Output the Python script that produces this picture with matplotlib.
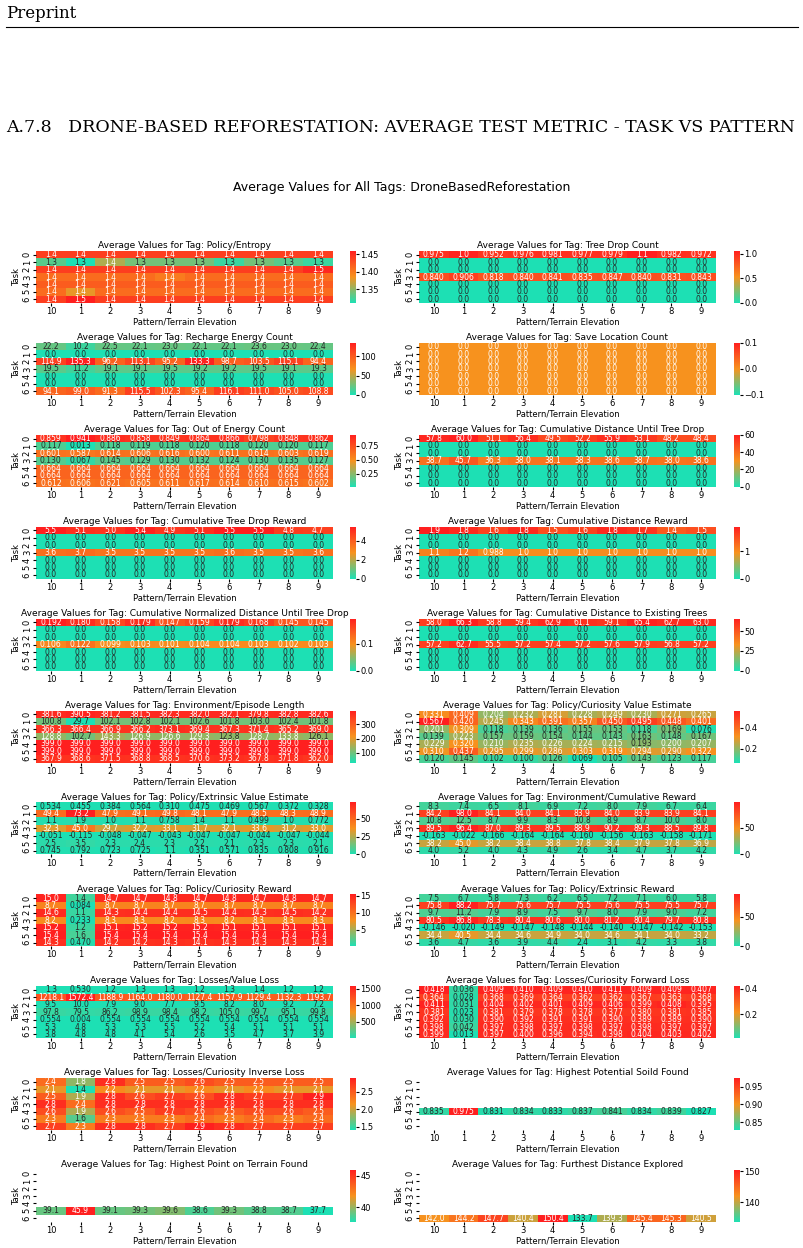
import numpy as np
import matplotlib
matplotlib.use("Agg")
import matplotlib.pyplot as plt
import seaborn as sns
from matplotlib.colors import LinearSegmentedColormap

W, H = 804, 1248
N = np.nan
Z = [0.0] * 10
ROWS = 7
X_LABELS = ["10", "1", "2", "3", "4", "5", "6", "7", "8", "9"]

policy_entropy = [
    [1.44, 1.44, 1.44, 1.44, 1.44, 1.44, 1.44, 1.44, 1.44, 1.44],
    [1.33, 1.31, 1.36, 1.34, 1.34, 1.34, 1.32, 1.34, 1.33, 1.32],
    [1.44, 1.44, 1.44, 1.44, 1.44, 1.44, 1.44, 1.44, 1.44, 1.454],
    [1.41, 1.41, 1.41, 1.41, 1.40, 1.41, 1.41, 1.41, 1.41, 1.41],
    [1.42, 1.42, 1.42, 1.42, 1.42, 1.42, 1.42, 1.42, 1.42, 1.42],
    [1.41, 1.38, 1.41, 1.41, 1.41, 1.41, 1.41, 1.41, 1.41, 1.41],
    [1.44, 1.46, 1.44, 1.44, 1.44, 1.44, 1.44, 1.44, 1.44, 1.44],
]
tree_drop_count = [
    [0.975, 1.04, 0.952, 0.976, 0.981, 0.977, 0.979, 1.06, 0.982, 0.972],
    Z, Z,
    [0.840, 0.906, 0.818, 0.840, 0.841, 0.835, 0.847, 0.840, 0.831, 0.843],
    Z, Z, Z,
]
recharge_energy = [
    [22.2, 10.2, 22.5, 22.1, 23.0, 22.1, 22.1, 23.6, 23.0, 22.4],
    Z,
    [114.9, 135.3, 96.2, 113.1, 95.2, 133.3, 98.7, 103.5, 115.1, 94.4],
    [19.5, 11.2, 19.1, 19.1, 19.5, 19.2, 19.2, 19.5, 19.1, 19.3],
    Z, Z,
    [94.1, 99.0, 91.3, 115.5, 102.3, 95.4, 116.1, 111.0, 105.0, 108.8],
]
save_location = [Z] * 7
out_of_energy = [
    [0.859, 0.941, 0.886, 0.858, 0.849, 0.864, 0.866, 0.798, 0.848, 0.862],
    [0.117, 0.013, 0.118, 0.119, 0.118, 0.120, 0.118, 0.120, 0.120, 0.117],
    [0.601, 0.587, 0.614, 0.606, 0.616, 0.600, 0.611, 0.614, 0.603, 0.619],
    [0.130, 0.067, 0.145, 0.129, 0.130, 0.132, 0.124, 0.130, 0.135, 0.127],
    [0.664] * 10,
    [0.664] * 10,
    [0.612, 0.606, 0.621, 0.605, 0.611, 0.617, 0.614, 0.610, 0.615, 0.602],
]
cum_dist_tree_drop = [
    [57.8, 60.0, 51.1, 56.4, 49.5, 52.2, 55.9, 53.1, 48.2, 48.4],
    Z, Z,
    [38.7, 45.7, 36.3, 38.0, 38.1, 38.3, 38.6, 38.7, 38.0, 38.6],
    Z, Z, Z,
]
cum_tree_drop_reward = [
    [5.5, 5.1, 5.0, 5.4, 4.9, 5.1, 5.5, 5.5, 4.8, 4.7],
    Z, Z,
    [3.6, 3.7, 3.5, 3.5, 3.5, 3.5, 3.6, 3.5, 3.5, 3.6],
    Z, Z, Z,
]
cum_dist_reward = [
    [1.9, 1.8, 1.6, 1.8, 1.5, 1.6, 1.8, 1.7, 1.4, 1.5],
    Z, Z,
    [1.1, 1.2, 0.988, 1.0, 1.0, 1.0, 1.0, 1.0, 1.0, 1.0],
    Z, Z, Z,
]
cum_norm_dist = [
    [0.192, 0.180, 0.158, 0.179, 0.147, 0.159, 0.179, 0.168, 0.145, 0.145],
    Z, Z,
    [0.106, 0.122, 0.099, 0.103, 0.101, 0.104, 0.104, 0.103, 0.102, 0.103],
    Z, Z, Z,
]
cum_dist_existing = [
    [58.0, 66.3, 58.8, 59.4, 62.9, 61.1, 59.1, 65.4, 62.7, 63.0],
    Z, Z,
    [57.2, 62.7, 55.5, 57.2, 57.4, 57.2, 57.6, 57.9, 56.8, 57.2],
    Z, Z, Z,
]
episode_length = [
    [381.6, 390.5, 381.2, 381.5, 382.3, 382.0, 382.1, 379.8, 382.8, 382.6],
    [100.8, 29.7, 102.1, 102.8, 102.1, 102.6, 101.8, 103.0, 102.4, 101.8],
    [366.3, 366.4, 366.9, 366.2, 373.1, 369.4, 367.3, 371.4, 365.2, 369.0],
    [128.8, 102.7, 143.3, 126.9, 126.6, 129.3, 123.8, 128.7, 133.8, 126.1],
    [399.0] * 10,
    [399.0] * 10,
    [367.9, 368.6, 371.5, 368.8, 368.5, 370.6, 373.2, 367.8, 371.8, 362.0],
]
curiosity_value = [
    [0.331, 0.409, 0.204, 0.232, 0.281, 0.228, 0.249, 0.230, 0.271, 0.265],
    [0.567, 0.420, 0.245, 0.343, 0.391, 0.357, 0.450, 0.495, 0.448, 0.401],
    [0.201, 0.309, 0.118, 0.139, 0.136, 0.155, 0.153, 0.118, 0.169, 0.076],
    [0.139, 0.223, 0.157, 0.159, 0.154, 0.144, 0.143, 0.163, 0.148, 0.167],
    [0.229, 0.320, 0.210, 0.235, 0.226, 0.224, 0.215, 0.193, 0.200, 0.207],
    [0.310, 0.437, 0.295, 0.299, 0.286, 0.303, 0.319, 0.294, 0.290, 0.322],
    [0.120, 0.145, 0.102, 0.100, 0.126, 0.069, 0.105, 0.143, 0.123, 0.117],
]
extrinsic_value = [
    [0.534, 0.455, 0.384, 0.564, 0.310, 0.475, 0.469, 0.567, 0.372, 0.328],
    [49.4, 73.2, 47.9, 49.1, 49.8, 48.1, 47.9, 48.5, 48.3, 48.9],
    [1.1, 1.9, 1.0, 1.1, 0.758, 1.4, 1.1, 0.499, 1.0, 0.772],
    [32.3, 45.0, 29.7, 32.2, 33.1, 31.7, 32.1, 33.6, 31.2, 33.0],
    [-0.051, -0.115, -0.048, -0.047, -0.043, -0.047, -0.047, -0.044, -0.047, -0.044],
    [2.5, 3.5, 2.3, 2.4, 2.3, 2.2, 2.1, 2.3, 2.3, 2.1],
    [0.745, 0.792, 0.723, 0.725, 1.1, 0.351, 0.571, 0.835, 0.808, 0.916],
]
env_cum_reward = [
    [8.3, 7.4, 6.5, 8.1, 6.9, 7.2, 8.0, 7.9, 6.7, 6.4],
    [84.2, 98.0, 84.1, 84.0, 84.1, 83.9, 84.0, 83.9, 83.9, 84.1],
    [10.8, 12.5, 8.7, 9.9, 8.3, 10.8, 8.9, 8.7, 10.0, 8.0],
    [89.5, 96.4, 87.0, 89.3, 89.5, 88.9, 90.2, 89.3, 88.5, 89.8],
    [-0.163, -0.022, -0.166, -0.164, -0.164, -0.160, -0.156, -0.163, -0.158, -0.171],
    [38.2, 45.0, 38.2, 38.4, 38.8, 37.8, 38.4, 37.9, 37.8, 36.9],
    [4.0, 5.2, 4.0, 4.3, 4.9, 2.6, 3.4, 4.7, 3.7, 4.2],
]
curiosity_reward = [
    [15.0, 1.4, 14.7, 14.7, 14.8, 14.7, 14.8, 14.7, 14.8, 14.7],
    [8.7, 0.084, 8.7, 8.7, 8.7, 8.7, 8.7, 8.7, 8.7, 8.7],
    [14.6, 1.1, 14.3, 14.4, 14.4, 14.5, 14.4, 14.3, 14.5, 14.2],
    [8.2, 0.233, 8.3, 8.3, 8.2, 8.3, 8.2, 8.3, 8.3, 8.3],
    [15.2, 1.2, 15.1, 15.2, 15.2, 15.2, 15.1, 15.1, 15.1, 15.1],
    [15.4, 1.6, 15.4, 15.4, 15.4, 15.4, 15.4, 15.4, 15.4, 15.4],
    [14.3, 0.470, 14.2, 14.2, 14.3, 14.1, 14.3, 14.3, 14.3, 14.3],
]
extrinsic_reward = [
    [7.5, 6.7, 5.8, 7.3, 6.2, 6.5, 7.2, 7.1, 6.0, 5.8],
    [75.8, 88.2, 75.7, 75.6, 75.7, 75.5, 75.6, 75.5, 75.5, 75.7],
    [9.7, 11.2, 7.9, 8.9, 7.5, 9.7, 8.0, 7.9, 9.0, 7.2],
    [80.5, 86.8, 78.3, 80.4, 80.6, 80.0, 81.2, 80.4, 79.7, 80.8],
    [-0.146, -0.020, -0.149, -0.147, -0.148, -0.144, -0.140, -0.147, -0.142, -0.153],
    [34.4, 40.5, 34.4, 34.6, 34.9, 34.0, 34.6, 34.1, 34.0, 33.2],
    [3.6, 4.7, 3.6, 3.9, 4.4, 2.4, 3.1, 4.2, 3.3, 3.8],
]
value_loss = [
    [1.3, 0.530, 1.2, 1.3, 1.3, 1.2, 1.3, 1.4, 1.2, 1.2],
    [1218.1, 1572.4, 1188.9, 1164.0, 1180.0, 1127.4, 1157.9, 1129.4, 1132.3, 1193.7],
    [9.5, 10.0, 7.9, 9.0, 7.7, 9.5, 8.2, 8.0, 9.2, 7.2],
    [97.8, 79.5, 86.2, 98.9, 98.4, 98.2, 105.0, 99.7, 95.1, 99.8],
    [0.554, 0.004, 0.554, 0.554, 0.554, 0.554, 0.554, 0.554, 0.554, 0.554],
    [5.3, 4.8, 5.3, 5.3, 5.5, 5.2, 5.4, 5.1, 5.1, 5.1],
    [3.8, 4.8, 4.8, 4.1, 5.4, 2.6, 3.5, 4.7, 3.7, 3.9],
]
forward_loss = [
    [0.418, 0.036, 0.409, 0.410, 0.409, 0.410, 0.411, 0.409, 0.409, 0.407],
    [0.364, 0.028, 0.368, 0.369, 0.364, 0.362, 0.362, 0.367, 0.363, 0.368],
    [0.411, 0.031, 0.404, 0.402, 0.401, 0.409, 0.406, 0.399, 0.408, 0.395],
    [0.381, 0.023, 0.381, 0.379, 0.378, 0.378, 0.377, 0.380, 0.381, 0.385],
    [0.392, 0.030, 0.390, 0.392, 0.391, 0.391, 0.390, 0.389, 0.389, 0.390],
    [0.398, 0.042, 0.397, 0.398, 0.397, 0.398, 0.397, 0.398, 0.397, 0.397],
    [0.399, 0.013, 0.397, 0.400, 0.396, 0.394, 0.398, 0.404, 0.403, 0.402],
]
inverse_loss = [
    [2.4, 1.8, 2.8, 2.5, 2.5, 2.6, 2.5, 2.5, 2.5, 2.5],
    [2.1, 1.4, 2.2, 2.1, 2.1, 2.2, 2.1, 2.2, 2.1, 2.1],
    [2.5, 1.9, 2.8, 2.6, 2.7, 2.6, 2.8, 2.7, 2.7, 2.9],
    [2.8, 2.4, 2.8, 2.8, 2.8, 2.8, 2.8, 2.8, 2.8, 2.8],
    [2.6, 1.9, 2.6, 2.5, 2.7, 2.6, 2.5, 2.6, 2.6, 2.5],
    [2.3, 1.6, 2.3, 2.3, 2.3, 2.4, 2.3, 2.4, 2.3, 2.4],
    [2.7, 2.3, 2.8, 2.8, 2.7, 2.9, 2.8, 2.7, 2.7, 2.7],
]
NR = [N] * 10
highest_soil = [NR, NR, NR, NR,
                [0.835, 0.975, 0.831, 0.834, 0.833, 0.837, 0.841, 0.834, 0.839, 0.827],
                NR, NR]
highest_point = [NR, NR, NR, NR, NR,
                 [39.1, 45.9, 39.1, 39.3, 39.6, 38.6, 39.3, 38.8, 38.7, 37.7],
                 NR]
furthest_dist = [NR, NR, NR, NR, NR, NR,
                 [142.0, 144.2, 147.7, 140.4, 150.4, 133.7, 139.3, 145.4, 145.3, 140.5]]

panels = [
    ("Policy/Entropy", policy_entropy),
    ("Tree Drop Count", tree_drop_count),
    ("Recharge Energy Count", recharge_energy),
    ("Save Location Count", save_location),
    ("Out of Energy Count", out_of_energy),
    ("Cumulative Distance Until Tree Drop", cum_dist_tree_drop),
    ("Cumulative Tree Drop Reward", cum_tree_drop_reward),
    ("Cumulative Distance Reward", cum_dist_reward),
    ("Cumulative Normalized Distance Until Tree Drop", cum_norm_dist),
    ("Cumulative Distance to Existing Trees", cum_dist_existing),
    ("Environment/Episode Length", episode_length),
    ("Policy/Curiosity Value Estimate", curiosity_value),
    ("Policy/Extrinsic Value Estimate", extrinsic_value),
    ("Environment/Cumulative Reward", env_cum_reward),
    ("Policy/Curiosity Reward", curiosity_reward),
    ("Policy/Extrinsic Reward", extrinsic_reward),
    ("Losses/Value Loss", value_loss),
    ("Losses/Curiosity Forward Loss", forward_loss),
    ("Losses/Curiosity Inverse Loss", inverse_loss),
    ("Highest Potential Soild Found", highest_soil),
    ("Highest Point on Terrain Found", highest_point),
    ("Furthest Distance Explored", furthest_dist),
]

cmap = LinearSegmentedColormap.from_list("tq_or_rd", ["#1de0b4", "#f7921e", "#ff1f1f"])


def fmt(v):
    if np.isnan(v):
        return ""
    if v != 0 and abs(v) < 1:
        return f"{v:.3f}"
    return f"{v:.1f}"


fig = plt.figure(figsize=(W / 100, H / 100), dpi=100)
fig.text(6 / W, 1 - 14 / H, "Preprint", fontsize=12, family="DejaVu Serif", va="center")
fig.add_artist(plt.Line2D([6 / W, 798 / W], [1 - 27 / H, 1 - 27 / H], color="black", lw=0.8))
fig.text(6 / W, 1 - 128 / H,
         "A.7.8   DRONE-BASED REFORESTATION: AVERAGE TEST METRIC - TASK VS PATTERN",
         fontsize=12.5, family="DejaVu Serif", va="center")
fig.text(0.5, 1 - 187 / H, "Average Values for All Tags: DroneBasedReforestation",
         fontsize=9, ha="center", va="center")

for i, (name, data) in enumerate(panels):
    r, c = divmod(i, 2)
    top = 251 + r * 91.9
    hh = 52
    x0 = 36 if c == 0 else 419
    cx = 350 if c == 0 else 734
    ax = fig.add_axes([x0 / W, 1 - (top + hh) / H, 297 / W, hh / H])
    cax = fig.add_axes([cx / W, 1 - (top + hh) / H, 6 / W, hh / H])
    arr = np.array(data, dtype=float)
    annot = np.vectorize(fmt)(arr)
    kw = {}
    if name == "Save Location Count":
        kw = dict(vmin=-0.1, vmax=0.1)
    sns.heatmap(arr, ax=ax, cbar_ax=cax, cmap=cmap, annot=annot, fmt="",
                annot_kws={"fontsize": 5.5}, xticklabels=X_LABELS,
                yticklabels=[str(k) for k in range(ROWS)], **kw)
    ax.set_title(f"Average Values for Tag: {name}", fontsize=6.5, pad=2)
    ax.set_xlabel("Pattern/Terrain Elevation", fontsize=6, labelpad=1)
    ax.set_ylabel("Task", fontsize=6, labelpad=1)
    ax.tick_params(axis="both", labelsize=6, length=2, pad=1)
    ax.set_xticklabels(X_LABELS, rotation=0)
    ax.set_yticklabels([str(k) for k in range(ROWS)], rotation=90, va="center")
    cax.tick_params(labelsize=6, length=2, pad=1)
    cax.set_frame_on(False)

fig.savefig("out.png", dpi=100)
